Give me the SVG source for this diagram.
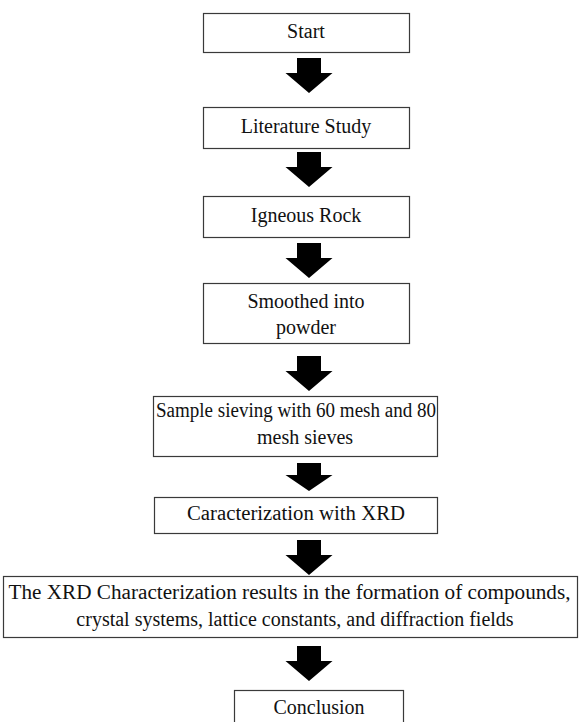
<svg xmlns="http://www.w3.org/2000/svg" width="579" height="722" viewBox="0 0 579 722">
<style>
.box{fill:#fff;stroke:#3a3a3a;stroke-width:1.2}
.t{font-family:'Liberation Serif','DejaVu Serif',serif;font-size:20px;fill:#111;text-anchor:middle}
.arr{fill:#000}
</style>
<defs>
<path id="arrow" d="M-12,0 H12 V15 H23.5 L0,35 L-23.5,15 H-12 Z"/>
</defs>
<rect width="579" height="722" fill="#fff"/>
<g id="start"><rect class="box" x="203.5" y="13.5" width="206" height="39"/><text class="t" x="306" y="38">Start</text></g>
<g id="literature"><rect class="box" x="203.5" y="107.5" width="206" height="41"/><text class="t" x="306" y="133">Literature Study</text></g>
<g id="igneous"><rect class="box" x="203.5" y="196.5" width="206" height="41"/><text class="t" x="306" y="222">Igneous Rock</text></g>
<g id="smoothed"><rect class="box" x="203.5" y="283.5" width="206" height="60"/><text class="t" x="306" y="308">Smoothed into</text><text class="t" x="306" y="334">powder</text></g>
<g id="sieving"><rect class="box" x="153.5" y="396.5" width="284" height="60"/><text class="t" x="296" y="417" textLength="280" lengthAdjust="spacingAndGlyphs">Sample sieving with 60 mesh and 80</text><text class="t" x="305" y="444">mesh sieves</text></g>
<g id="xrd"><rect class="box" x="154.5" y="497.5" width="283" height="36"/><text class="t" x="296" y="520" textLength="218" lengthAdjust="spacingAndGlyphs">Caracterization with XRD</text></g>
<g id="results"><rect class="box" x="3.5" y="576.5" width="574" height="61"/><text class="t" x="289.5" y="599" textLength="562" lengthAdjust="spacingAndGlyphs">The XRD Characterization results in the formation of compounds,</text><text class="t" x="295" y="626">crystal systems, lattice constants, and diffraction fields</text></g>
<g id="conclusion"><rect class="box" x="234.5" y="690.5" width="169" height="40"/><text class="t" x="319" y="714">Conclusion</text></g>
<g id="connectors" class="arr">
<use href="#arrow" x="309" y="58"/>
<use href="#arrow" x="309" y="152"/>
<use href="#arrow" x="309" y="243"/>
<use href="#arrow" x="309" y="356"/>
<use href="#arrow" transform="translate(309,463) scale(1,0.8)"/>
<use href="#arrow" x="309" y="540"/>
<use href="#arrow" x="309" y="646"/>
</g>
</svg>
